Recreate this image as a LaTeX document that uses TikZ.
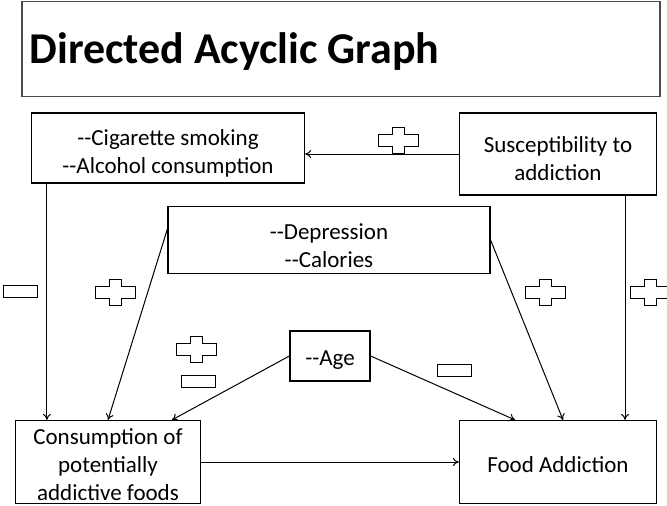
\documentclass[tikz,border=0pt]{standalone}
\usepackage{fontspec}
\newfontfamily\carlito{Carlito}
\usepackage{tikz}
\usetikzlibrary{arrows.meta, positioning}
\tikzset{every node/.style={font=\carlito\fontsize{23}{28}\selectfont}}

\begin{document}
\begin{tikzpicture}[x=1pt, y=-1pt,
  factorbox/.style={draw, line width=1.2pt, align=center, inner sep=0pt, execute at begin node={\rule{0pt}{22pt}}},
  boxtext/.style={align=center, inner sep=0pt},
  link/.style={-{To[length=6pt, width=8pt]}, line width=1pt},
  plussign/.pic={\draw[line width=1pt, fill=white] (-6,-13) -- (6,-13) -- (6,-6) -- (20,-6) -- (20,6) -- (6,6) -- (6,13) -- (-6,13) -- (-6,6) -- (-20,6) -- (-20,-6) -- (-6,-6) -- cycle;},
  minussign/.pic={\draw[line width=1pt, fill=white] (-17,-6) rectangle (17,6);}]
  \useasboundingbox (0,0) rectangle (667,506);
  % boxes
  \node[draw=black!70, line width=1.2pt, minimum width=638pt, minimum height=95pt] (title) at (341,49) {};
  \node[anchor=west, font=\carlito\bfseries\fontsize{44}{50}\selectfont] (titletext) at (26,52) {Directed Acyclic Graph};
  \node[factorbox, minimum width=273pt, minimum height=70pt] (smoking) at (168,148) {};
  \node[boxtext] (smokingtext) at (168,153) {-{}-Cigarette smoking\\-{}-Alcohol consumption};
  \node[factorbox, minimum width=197pt, minimum height=82pt] (suscept) at (558,154) {};
  \node[boxtext] (suscepttext) at (558,159) {Susceptibility to\\addiction};
  \node[factorbox, minimum width=322pt, minimum height=67pt] (mood) at (329,240) {};
  \node[boxtext] (moodtext) at (329,246) {-{}-Depression\\-{}-Calories};
  \node[factorbox, minimum width=80pt, minimum height=50pt] (age) at (330,356) {-{}-Age};
  \node[factorbox, minimum width=185pt, minimum height=83pt] (consumption) at (108,462) {};
  \node[boxtext] (consumptiontext) at (108,465) {Consumption of\\potentially\\addictive foods};
  \node[factorbox, minimum width=197pt, minimum height=83pt] (foodadd) at (558,462) {Food Addiction};
  % arrows
  \draw[link] (suscept.west) -- (suscept.west -| smoking.east);
  \draw[link] ([xshift=16pt]smoking.south west) -- ([xshift=16pt]smoking.south west |- consumption.north);
  \draw[link] ([yshift=11pt]mood.west) -- (consumption.north);
  \draw[link] (mood.east) -- ([xshift=5pt]foodadd.north);
  \draw[link] ([xshift=67pt]suscept.south) -- ([xshift=67pt]suscept.south |- foodadd.north);
  \draw[link] (age.west) -- ([xshift=64pt]consumption.north);
  \draw[link] (age.east) -- ([xshift=-43pt]foodadd.north);
  \draw[link] (consumption.east) -- (foodadd.west);
  % signs
  \pic at (398,140) {plussign};
  \pic at (20,291) {minussign};
  \pic at (115,292) {plussign};
  \pic at (545,292) {plussign};
  \pic at (650,292) {plussign};
  \pic at (196,349) {plussign};
  \pic at (198,381) {minussign};
  \pic at (454,370) {minussign};
\end{tikzpicture}
\end{document}
